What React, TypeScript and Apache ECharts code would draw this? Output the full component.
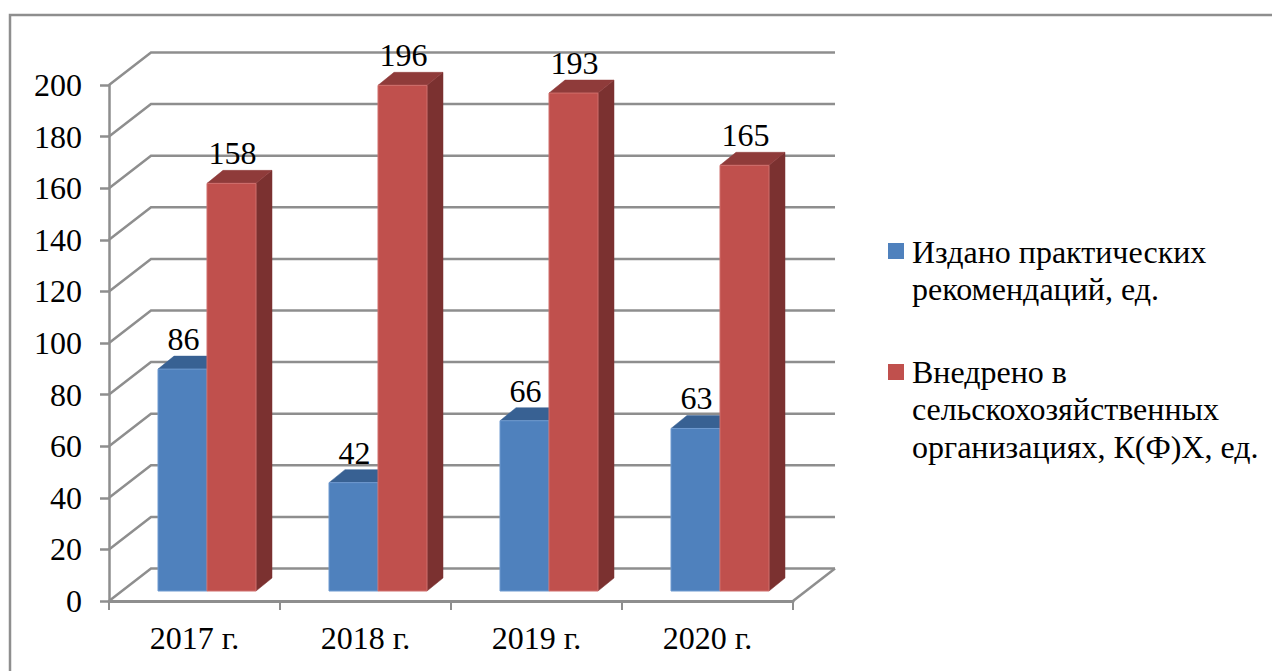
import React, { useEffect, useRef } from "react";
import * as echarts from "echarts";

const categories = ["2017 г.", "2018 г.", "2019 г.", "2020 г."];
const seriesNames = ["Издано практических\nрекомендаций, ед.", "Внедрено в\nсельскохозяйственных\nорганизациях, К(Ф)Х, ед."];
const published = [86, 42, 66, 63];
const adopted = [158, 196, 193, 165];
const gridValues = [0, 20, 40, 60, 80, 100, 120, 140, 160, 180, 200];

const FONT = '"Liberation Serif", "Times New Roman", serif';
const FS = 32;
const GREY = "#8e8e8e";
const WALL_DX = 42;
const WALL_DY = -32.5;
const BAR_W = 49;
const FLOOR_DX = 12.5;
const FLOOR_DY = -10;
const SIDE_DX = 16;
const SIDE_DY = -13;

function barItem(offsetSign: number, front: string, top: string, side: string, edge: string) {
  return (_p: any, api: any) => {
    const i = api.value(0);
    const v = api.value(1);
    const base = api.coord([i, 0]);
    const tip = api.coord([i, v]);
    const xl = base[0] + FLOOR_DX + (offsetSign < 0 ? -BAR_W : 0);
    const xr = xl + BAR_W;
    const yb = base[1] + FLOOR_DY;
    const yt = tip[1] + FLOOR_DY;
    const poly = (points: number[][], fill: string) => ({
      type: "polygon",
      shape: { points },
      style: { fill, stroke: fill, lineWidth: 0.5 },
    });
    return {
      type: "group",
      children: [
        poly([[xr, yb], [xr + SIDE_DX, yb + SIDE_DY], [xr + SIDE_DX, yt + SIDE_DY], [xr, yt]], side),
        poly([[xl, yt], [xr, yt], [xr + SIDE_DX, yt + SIDE_DY], [xl + SIDE_DX, yt + SIDE_DY]], top),
        {
          type: "rect",
          shape: { x: xl, y: yt, width: BAR_W, height: yb - yt },
          style: { fill: front, stroke: edge, lineWidth: 1 },
        },
        {
          type: "text",
          z2: 20,
          style: {
            text: String(v),
            x: xl + BAR_W / 2 + 1,
            y: yt - 30,
            font: `${FS}px ${FONT}`,
            fill: "#000",
            textAlign: "center",
            textVerticalAlign: "middle",
          },
        },
      ],
    };
  };
}

function wallItem(_p: any, api: any) {
  const v = api.value(1);
  const c = api.coord([0, v]);
  const band = api.size([1, 0])[0];
  const x0 = c[0] - band / 2;
  const x1 = x0 + band * categories.length;
  const lineStyle = { stroke: GREY, lineWidth: 2.5, fill: "none" };
  const children: any[] = [
    {
      type: "polyline",
      shape: { points: [[x0, c[1]], [x0 + WALL_DX, c[1] + WALL_DY], [x1 + WALL_DX, c[1] + WALL_DY]] },
      style: lineStyle,
    },
  ];
  if (v === 0) {
    children.push({
      type: "line",
      shape: { x1, y1: c[1], x2: x1 + WALL_DX, y2: c[1] + WALL_DY },
      style: lineStyle,
    });
  }
  return { type: "group", children };
}

export default function App() {
  const ref = useRef<HTMLDivElement>(null);
  useEffect(() => {
    if (!ref.current) return;
    const chart = echarts.init(ref.current, undefined, { renderer: "svg" });
    chart.setOption({
      animation: false,
      backgroundColor: "#ffffff",
      grid: { left: 109, top: 85, width: 684, height: 516, containLabel: false },
      xAxis: {
        type: "category",
        data: categories,
        axisLine: { show: true, lineStyle: { color: GREY, width: 3 } },
        axisTick: { show: true, alignWithLabel: false, length: 9, lineStyle: { color: GREY, width: 2 } },
        axisLabel: { color: "#000", fontFamily: FONT, fontSize: FS, margin: 21 },
        splitLine: { show: false },
      },
      yAxis: {
        type: "value",
        min: 0,
        max: 200,
        interval: 20,
        axisLine: { show: true, lineStyle: { color: GREY, width: 2.5 } },
        axisTick: { show: true, length: 9, lineStyle: { color: GREY, width: 2.5 } },
        axisLabel: { color: "#000", fontFamily: FONT, fontSize: FS, margin: 27, padding: [0, 0, 2, 0] },
        splitLine: { show: false },
      },
      series: [
        { type: "custom", name: "wall", silent: true, z: 1, clip: false, data: gridValues.map((v) => [0, v]), renderItem: wallItem },
        {
          type: "custom",
          name: seriesNames[0],
          z: 3,
          clip: false,
          data: published.map((v, i) => [i, v]),
          renderItem: barItem(-1, "#4f81bd", "#386193", "#31567f", "#6f9ad0"),
        },
        {
          type: "custom",
          name: seriesNames[1],
          z: 4,
          clip: false,
          data: adopted.map((v, i) => [i, v]),
          renderItem: barItem(1, "#c0504d", "#8f3b3a", "#7b3130", "#cf6f6c"),
        },
      ],
      graphic: [
        { type: "polyline", shape: { points: [[10, 671], [10, 15], [1272, 15]] }, style: { stroke: GREY, lineWidth: 2.5, fill: "none" } },
        { type: "rect", shape: { x: 888, y: 243, width: 16, height: 16 }, style: { fill: "#4f81bd" } },
        { type: "rect", shape: { x: 888, y: 364, width: 16, height: 16 }, style: { fill: "#c0504d" } },
        { type: "text", x: 912, y: 233, style: { text: seriesNames[0], font: `${FS}px ${FONT}`, lineHeight: 37.5, fill: "#000" } },
        { type: "text", x: 912, y: 353, style: { text: seriesNames[1], font: `${FS}px ${FONT}`, lineHeight: 37.5, fill: "#000" } },
      ],
    });
    return () => chart.dispose();
  }, []);
  return <div ref={ref} style={{ position: "absolute", left: 0, top: 0, width: 1272, height: 671 }} />;
}
